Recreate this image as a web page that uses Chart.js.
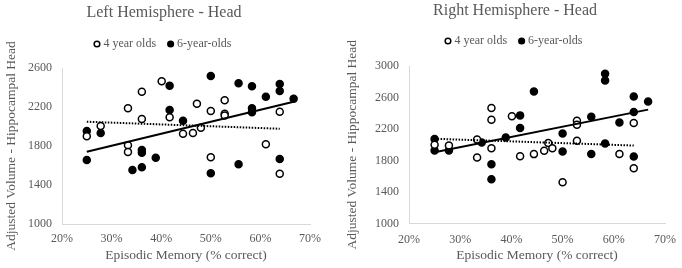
<!DOCTYPE html>
<html>
<head>
<meta charset="utf-8">
<script src="https://cdn.jsdelivr.net/npm/chart.js@4.4.1/dist/chart.umd.min.js"></script>
<style>
  body { margin: 0; background: #fff; }
  .wrap { display: flex; width: 682px; height: 268px; }
  canvas { display: block; }
</style>
</head>
<body>
<div class="wrap">
  <canvas id="leftChart" width="341" height="268"></canvas>
  <canvas id="rightChart" width="341" height="268"></canvas>
</div>
<script>
// episodic memory (% correct) vs adjusted volume
const seriesLabels = ['4 year olds', '6-year-olds'];

const leftYoungX = [25, 27.8, 33.3, 33.3, 33.3, 36.1, 36.1, 40.1, 41.7, 44.4, 46.4, 47.2, 48.0, 50, 50, 52.8, 52.8, 52.8, 61.1, 63.9, 63.9];
const leftYoungY = [1899, 2005, 2187, 1807, 1738, 2357, 2077, 2464, 2094, 1926, 1933, 2234, 1988, 2159, 1684, 2269, 2130, 2112, 1817, 2152, 1516];
const leftOlderX = [25, 25, 27.8, 34.2, 36.1, 36.1, 36.1, 38.9, 41.7, 41.7, 44.4, 50, 50, 55.6, 55.6, 58.3, 58.3, 58.3, 61.1, 63.9, 63.9, 63.9, 66.7];
const leftOlderY = [1954, 1656, 1933, 1554, 1759, 1731, 1582, 1680, 2418, 2169, 2059, 2518, 1520, 2443, 1612, 2412, 2187, 2146, 2306, 2436, 2364, 1667, 2285];

const rightYoungX = [25, 27.8, 33.3, 33.3, 36.1, 36.1, 36.1, 40.1, 41.7, 44.4, 46.4, 47.2, 48.0, 50, 52.8, 52.8, 52.8, 61.1, 63.9, 63.9];
const rightYoungY = [1999, 1990, 1837, 2067, 2468, 2318, 1957, 2361, 1855, 1881, 1923, 2021, 1957, 1523, 2306, 2255, 2050, 1884, 2276, 1702];
const rightOlderX = [25, 25, 27.8, 34.2, 36.1, 36.1, 38.9, 41.7, 41.7, 44.4, 50, 50, 55.6, 55.6, 58.3, 58.3, 58.3, 61.1, 63.9, 63.9, 63.9, 66.7];
const rightOlderY = [2072, 1927, 1927, 2029, 1753, 1562, 2093, 2373, 2213, 2676, 2144, 1914, 2357, 1884, 2902, 2816, 2016, 2284, 2612, 2417, 1850, 2548];

// trendline end points
const youngTrendX = [25, 63.9];
const olderTrendX = [25, 66.7];
const leftYoungTrend = [2049, 1977];
const leftOlderTrend = [1742, 2254];
const rightYoungTrend = [2076, 1990];
const rightOlderTrend = [1906, 2446];

const serif = "'Liberation Serif', 'Times New Roman', serif";
const textGrey = '#595959';
const axisGrey = '#d9d9d9';

function toPoints(xs, ys) {
    return xs.map((x, i) => ({ x: x, y: ys[i] }));
}

function renderScatter(canvasId, setup) {
    const ctx = document.getElementById(canvasId).getContext('2d');

    new Chart(ctx, {
        type: 'scatter',
        data: {
            datasets: [
                {
                    label: 'trend 6',
                    data: toPoints(olderTrendX, setup.olderTrend),
                    showLine: true,
                    borderColor: '#000',
                    borderWidth: 2,
                    pointRadius: 0
                },
                {
                    label: 'trend 4',
                    data: toPoints(youngTrendX, setup.youngTrend),
                    showLine: true,
                    borderColor: '#000',
                    borderWidth: 2,
                    borderDash: [1.5, 1.5],
                    pointRadius: 0
                },
                {
                    label: seriesLabels[0],
                    data: toPoints(setup.youngX, setup.youngY),
                    backgroundColor: '#fff',
                    borderColor: '#000',
                    borderWidth: 1.5,
                    pointStyle: 'circle',
                    pointRadius: 3.5
                },
                {
                    label: seriesLabels[1],
                    data: toPoints(setup.olderX, setup.olderY),
                    backgroundColor: '#000',
                    borderColor: '#000',
                    borderWidth: 1.5,
                    pointStyle: 'circle',
                    pointRadius: 3.5
                }
            ]
        },
        options: {
            responsive: false,
            animation: false,
            devicePixelRatio: 1,
            clip: false,
            layout: {
                padding: { left: setup.padLeft, right: setup.padRight, top: 0, bottom: 0 }
            },
            plugins: {
                title: {
                    display: true,
                    text: setup.title,
                    color: textGrey,
                    font: { family: serif, size: 16, weight: 'normal' },
                    padding: { top: setup.titleTop, bottom: setup.titleBottom }
                },
                // empty spacer between legend and plot
                subtitle: {
                    display: true,
                    text: '',
                    weight: 500,
                    padding: 0,
                    font: { size: setup.gap, lineHeight: 1 }
                },
                legend: {
                    position: 'top',
                    labels: {
                        usePointStyle: true,
                        boxWidth: 1,
                        boxHeight: 4,
                        padding: 14,
                        color: textGrey,
                        font: { family: serif, size: 12 },
                        filter: item => item.datasetIndex >= 2
                    }
                },
                tooltip: { enabled: false }
            },
            scales: {
                x: {
                    type: 'linear',
                    min: 20,
                    max: 70,
                    afterFit: scale => { scale.height = setup.xHeight; },
                    grid: { display: false },
                    border: { color: axisGrey },
                    ticks: {
                        stepSize: 10,
                        padding: setup.xTickPad,
                        color: textGrey,
                        font: { family: serif, size: 12 },
                        callback: v => v + '%'
                    },
                    title: {
                        display: true,
                        text: 'Episodic Memory (% correct)',
                        color: textGrey,
                        font: { family: serif, size: 13.5 },
                        padding: { top: 0, bottom: 4 }
                    }
                },
                y: {
                    min: 1000,
                    max: setup.yMax,
                    afterFit: scale => { scale.width = 44; },
                    grid: { display: false },
                    border: { color: axisGrey },
                    ticks: {
                        stepSize: 400,
                        padding: 2,
                        color: textGrey,
                        font: { family: serif, size: 12 },
                        callback: v => String(v)
                    },
                    title: {
                        display: true,
                        text: 'Adjusted Volume - Hippocampal Head',
                        color: textGrey,
                        font: { family: serif, size: 13.5 },
                        padding: { top: setup.yTitleShift, bottom: 0 }
                    }
                }
            }
        }
    });
}

document.addEventListener('DOMContentLoaded', function () {
    renderScatter('leftChart', {
        title: 'Left Hemisphere - Head',
        youngX: leftYoungX, youngY: leftYoungY,
        olderX: leftOlderX, olderY: leftOlderY,
        youngTrend: leftYoungTrend, olderTrend: leftOlderTrend,
        yMax: 2600,
        padLeft: 18, padRight: 31,
        titleTop: 3.4, titleBottom: 1.4, gap: 8,
        xHeight: 44, xTickPad: 0,
        yTitleShift: -14.4
    });

    renderScatter('rightChart', {
        title: 'Right Hemisphere - Head',
        youngX: rightYoungX, youngY: rightYoungY,
        olderX: rightOlderX, olderY: rightOlderY,
        youngTrend: rightYoungTrend, olderTrend: rightOlderTrend,
        yMax: 3000,
        padLeft: 24, padRight: 17,
        titleTop: 1.4, titleBottom: 0.4, gap: 9,
        xHeight: 44.5, xTickPad: 1,
        yTitleShift: -20.4
    });
});
</script>
</body>
</html>
